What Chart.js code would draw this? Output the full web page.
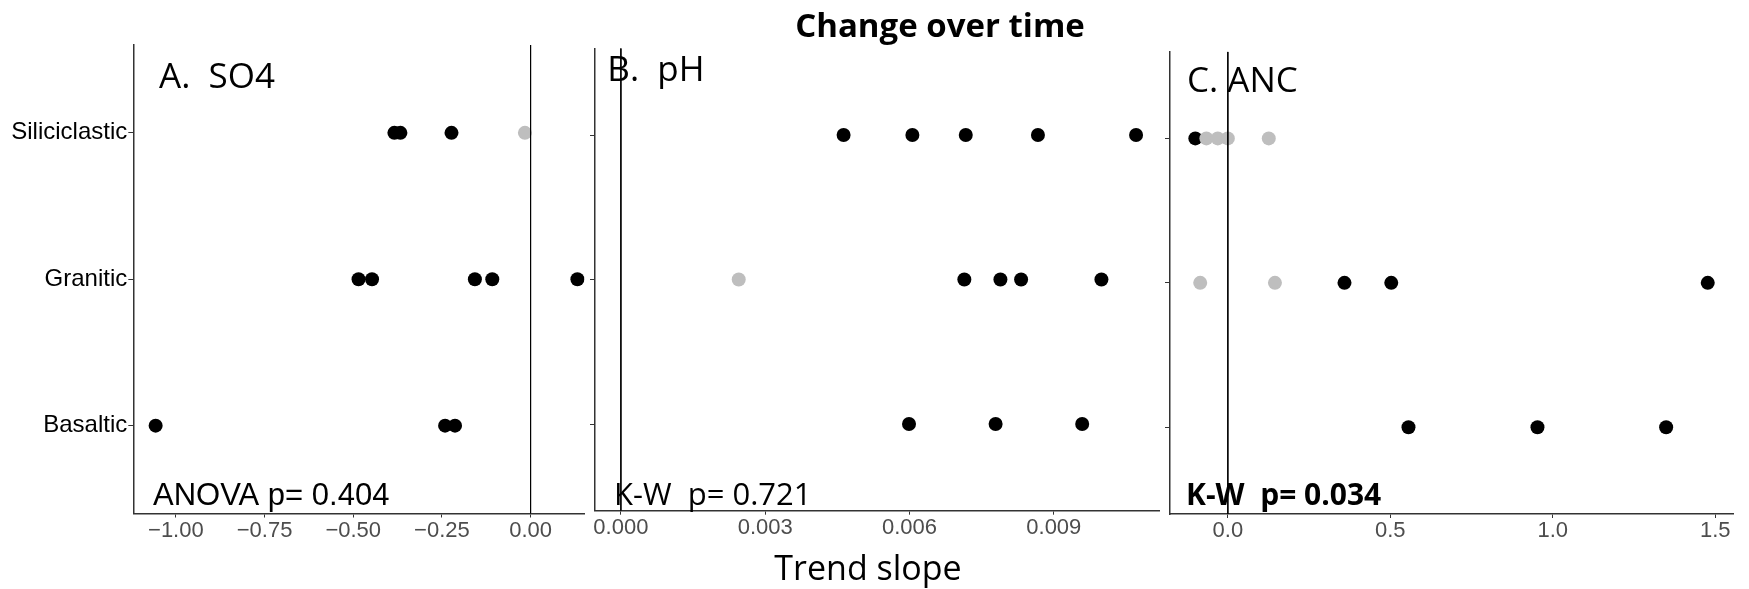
<!DOCTYPE html>
<html lang="en">
<head>
<meta charset="UTF-8">
<title>Change over time</title>
<script src="https://cdn.jsdelivr.net/npm/chart.js"></script>
<style>
    body { margin: 0; background: #fff; }
    #wrap { position: relative; width: 1749px; height: 589px; }
    #wrap canvas { position: absolute; left: 0; top: 0; }
</style>
</head>
<body>
<div id="wrap">
    <canvas id="so4Chart" width="1749" height="589"></canvas>
    <canvas id="phChart" width="1749" height="589"></canvas>
    <canvas id="ancChart" width="1749" height="589"></canvas>
</div>
<script>
const rockTypes = ['Siliciclastic', 'Granitic', 'Basaltic'];

// A. SO4 trend slopes (rock = index into rockTypes, sig 0 = grey point)
const so4Slope = [-0.384, -0.367, -0.223, -0.016, -0.485, -0.447, -0.157, -0.108, 0.132, -1.057, -0.241, -0.213];
const so4Rock  = [0, 0, 0, 0, 1, 1, 1, 1, 1, 2, 2, 2];
const so4Sig   = [1, 1, 1, 0, 1, 1, 1, 1, 1, 1, 1, 1];
const so4Ticks = [-1, -0.75, -0.5, -0.25, 0];

// B. pH
const phSlope = [0.00463, 0.00606, 0.00717, 0.00867, 0.01071, 0.00245, 0.00714, 0.00789, 0.00832, 0.00999, 0.00599, 0.00779, 0.00959];
const phRock  = [0, 0, 0, 0, 0, 1, 1, 1, 1, 1, 2, 2, 2];
const phSig   = [1, 1, 1, 1, 1, 0, 1, 1, 1, 1, 1, 1, 1];
const phTicks = [0, 0.003, 0.006, 0.009];

// C. ANC
const ancSlope = [-0.100, -0.066, -0.031, 0.000, 0.126, -0.085, 0.145, 0.359, 0.503, 1.477, 0.556, 0.953, 1.349];
const ancRock  = [0, 0, 0, 0, 0, 1, 1, 1, 1, 1, 2, 2, 2];
const ancSig   = [1, 0, 0, 0, 0, 0, 0, 1, 1, 1, 1, 1, 1];
const ancTicks = [0, 0.5, 1, 1.5];

// draws panel letters / p-values relative to the plot area
const panelText = {
    id: 'panelText',
    afterDraw(chart, args, opts) {
        const ctx = chart.ctx;
        const a = chart.chartArea;
        ctx.save();
        ctx.textBaseline = 'alphabetic';
        (opts.items || []).forEach(t => {
            ctx.font = t.font;
            ctx.fillStyle = '#000';
            if (t.abs) {
                ctx.textAlign = 'center';
                ctx.fillText(t.text, t.x, t.y);
            } else {
                ctx.textAlign = 'left';
                const y = t.fromBottom ? a.bottom - t.dy : a.top + t.dy;
                ctx.fillText(t.text, a.left + t.dx, y);
            }
        });
        ctx.restore();
    }
};

function points(slope, rock, sig, flag) {
    const out = [];
    slope.forEach((v, i) => {
        if (sig[i] === flag) out.push({ x: v, y: rock[i] + 1 });
    });
    return out;
}

function makePanel(id, p) {
    return new Chart(document.getElementById(id), {
        type: 'scatter',
        data: {
            datasets: [
                {
                    data: [{ x: 0, y: 0.4 }, { x: 0, y: 3.6 }],
                    showLine: true,
                    pointRadius: 0,
                    borderColor: '#000',
                    borderWidth: 1,
                    order: 0
                },
                {
                    data: points(p.slope, p.rock, p.sig, 0),
                    backgroundColor: '#bebebe',
                    borderWidth: 0,
                    pointRadius: 7,
                    order: 1
                },
                {
                    data: points(p.slope, p.rock, p.sig, 1),
                    backgroundColor: '#000',
                    borderWidth: 0,
                    pointRadius: 7,
                    order: 2
                }
            ]
        },
        options: {
            responsive: false,
            animation: false,
            devicePixelRatio: 1,
            layout: { padding: p.padding },
            plugins: {
                legend: { display: false },
                tooltip: { enabled: false },
                panelText: { items: p.texts }
            },
            scales: {
                x: {
                    type: 'linear',
                    min: p.min,
                    max: p.max,
                    afterBuildTicks: s => { s.ticks = p.ticks.map(v => ({ value: v })); },
                    afterFit: s => { s.height = 40; },
                    ticks: {
                        callback: p.fmt,
                        color: '#4d4d4d',
                        font: { family: 'Liberation Sans', size: 22 },
                        padding: 0,
                        maxRotation: 0,
                        autoSkip: false
                    },
                    grid: { drawOnChartArea: false, tickLength: 4, color: '#333' },
                    border: { display: true, color: '#333', width: 1.5 }
                },
                y: {
                    type: 'linear',
                    reverse: true,
                    min: 0.4,
                    max: 3.6,
                    afterBuildTicks: s => { s.ticks = [1, 2, 3].map(v => ({ value: v })); },
                    afterFit: s => { s.width = p.yWidth; },
                    ticks: {
                        callback: (v, i) => p.showLabels ? rockTypes[i] : '',
                        color: '#000',
                        font: { family: 'Liberation Sans', size: 24 },
                        padding: 1,
                        autoSkip: false
                    },
                    grid: { drawOnChartArea: false, tickLength: 5, color: '#333' },
                    border: { display: true, color: '#333', width: 1.5 }
                }
            }
        },
        plugins: [panelText]
    });
}

const minus = (v, d) => (v < 0 ? '\u2212' : '') + Math.abs(v).toFixed(d);

makePanel('so4Chart', {
    slope: so4Slope, rock: so4Rock, sig: so4Sig, ticks: so4Ticks,
    min: -1.120, max: 0.152,
    fmt: v => minus(v, 2),
    showLabels: true, yWidth: 133.3,
    padding: { left: 0, top: 45, right: 1164.5, bottom: 35.5 },
    texts: [
        { text: 'A.  SO4', font: '35px "Open Sans"', dx: 25.7, dy: 43.3 },
        { text: 'ANOVA p= 0.404', font: '31px "Liberation Sans"', dx: 19.7, dy: 8.5, fromBottom: true }
    ]
});

makePanel('phChart', {
    slope: phSlope, rock: phRock, sig: phSig, ticks: phTicks,
    min: -0.000538, max: 0.011193,
    fmt: v => minus(v, 3),
    showLabels: false, yWidth: 12,
    padding: { left: 583, top: 48.3, right: 589.7, bottom: 38.3 },
    texts: [
        { text: 'B.  pH', font: '35px "Open Sans"', dx: 12.3, dy: 32.4 },
        { text: 'K-W  p= 0.721', font: '31px "Open Sans"', dx: 19, dy: 5.7, fromBottom: true },
        { text: 'Change over time', font: 'bold 33px "Open Sans"', abs: true, x: 940, y: 37 },
        { text: 'Trend slope', font: '34px "Open Sans"', abs: true, x: 868, y: 580 }
    ]
});

makePanel('ancChart', {
    slope: ancSlope, rock: ancRock, sig: ancSig, ticks: ancTicks,
    min: -0.178, max: 1.556,
    fmt: v => minus(v, 1),
    showLabels: false, yWidth: 12,
    padding: { left: 1158, top: 51.7, right: 15.6, bottom: 35 },
    texts: [
        { text: 'C. ANC', font: '35px "Open Sans"', dx: 17, dy: 40 },
        { text: 'K-W  p= 0.034', font: 'bold 30px "Open Sans"', dx: 16, dy: 9, fromBottom: true }
    ]
});
</script>
</body>
</html>
